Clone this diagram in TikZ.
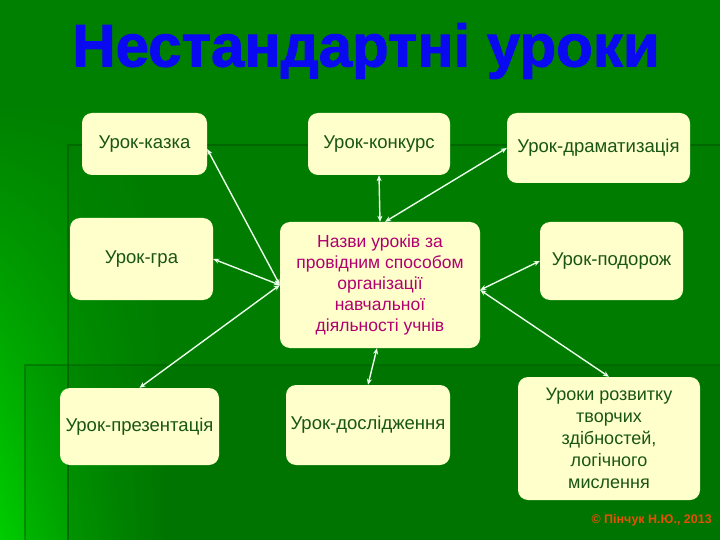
\documentclass[tikz,border=0pt]{standalone}
\usepackage{fontspec}
\setmainfont{Liberation Sans}
\newfontfamily\titlefont[BoldFeatures={FakeBold=1.6}]{Liberation Sans}
\usetikzlibrary{arrows.meta,fadings}
\definecolor{bgdark}{RGB}{0,128,0}
\definecolor{bgbright}{RGB}{0,205,0}
\definecolor{framec}{RGB}{0,95,0}
\definecolor{cream}{RGB}{255,255,204}
\definecolor{txtgreen}{RGB}{25,85,20}
\definecolor{txtmag}{RGB}{176,0,110}
\definecolor{titleblue}{RGB}{10,10,240}
\definecolor{arrowc}{RGB}{235,255,235}
\definecolor{footc}{RGB}{230,80,0}
\tikzset{
  box/.style={fill=cream, rounded corners=10pt, inner sep=3pt, align=center,
    text=txtgreen, font=\fontsize{18.5}{22}\selectfont},
  link/.style={draw=arrowc, line width=1.4pt,
    {Stealth[length=6pt,width=5pt]}-{Stealth[length=6pt,width=5pt]}},
}
\begin{document}
\begin{tikzpicture}[x=1pt,y=-1pt]
\useasboundingbox (0,0) rectangle (720,540);
% background
\fill[bgdark] (0,0) rectangle (720,540);
\shade[left color=bgbright, right color=bgdark, path fading=north] (0,100) rectangle (170,540);
\fill[bgdark!88!black, opacity=0.25] (68,145) rectangle (720,540);
\draw[framec, line width=2.5pt, opacity=0.7] (720,145) -- (68,145) -- (68,540);
\fill[black, opacity=0.06] (25,365) rectangle (720,540);
\draw[framec, line width=2pt, opacity=0.5] (720,365) -- (25,365) -- (25,540);
% title
\node[text=titleblue, font=\titlefont\bfseries\fontsize{60}{60}\selectfont, inner sep=0pt] (title) at (366,51) {\scalebox{1.0}[1.0]{Нестандартні уроки}};
% nodes
\node[box, minimum width=125pt, minimum height=62pt] (kazka) at (144.5,144) {Урок-казка};
\node[box, minimum width=142pt, minimum height=62pt] (konk) at (379,144) {Урок-конкурс};
\node[box, minimum width=183pt, minimum height=70pt] (dram) at (598.5,148) {Урок-драматизація};
\node[box, minimum width=143pt, minimum height=82pt] (gra) at (141.5,259) {Урок-гра};
\node[box, minimum width=200pt, minimum height=126pt, text=txtmag, font=\fontsize{17.5}{21}\selectfont] (c) at (380,285) {Назви уроків за\\провідним способом\\організації\\навчальної\\діяльності учнів};
\node[box, minimum width=143pt, minimum height=78pt] (pod) at (611.5,261) {Урок-подорож};
\node[box, minimum width=159pt, minimum height=77pt] (prez) at (139.5,426.5) {\raisebox{-9pt}{Урок-презентація}};
\node[box, minimum width=164pt, minimum height=80pt] (dosl) at (368,425) {\raisebox{-6pt}{Урок-дослідження}};
\node[box, minimum width=182pt, minimum height=123pt, font=\fontsize{18}{22}\selectfont] (rozv) at (609,438.5) {Уроки розвитку\\творчих\\здібностей,\\логічного\\мислення};
% connectors
\draw[link] (c.west) -- ([yshift=-5pt]kazka.east);
\draw[link] (c.west) -- (gra.east);
\draw[link] (c.west) -- (prez.north);
\draw[link] (c.north) -- (konk.south);
\draw[link] ([xshift=5pt]c.north) -- (dram.west);
\draw[link] ([yshift=-5pt]c.east) -- (pod.west);
\draw[link] ([yshift=-5pt]c.east) -- (rozv.north);
\draw[link] ([xshift=-3pt]c.south) -- (dosl.north);
% footer
\node[text=footc, font=\bfseries\fontsize{12.5}{13}\selectfont, anchor=east, inner sep=0pt] (foot) at (712,520) {© Пінчук Н.Ю., 2013};
\end{tikzpicture}
\end{document}
